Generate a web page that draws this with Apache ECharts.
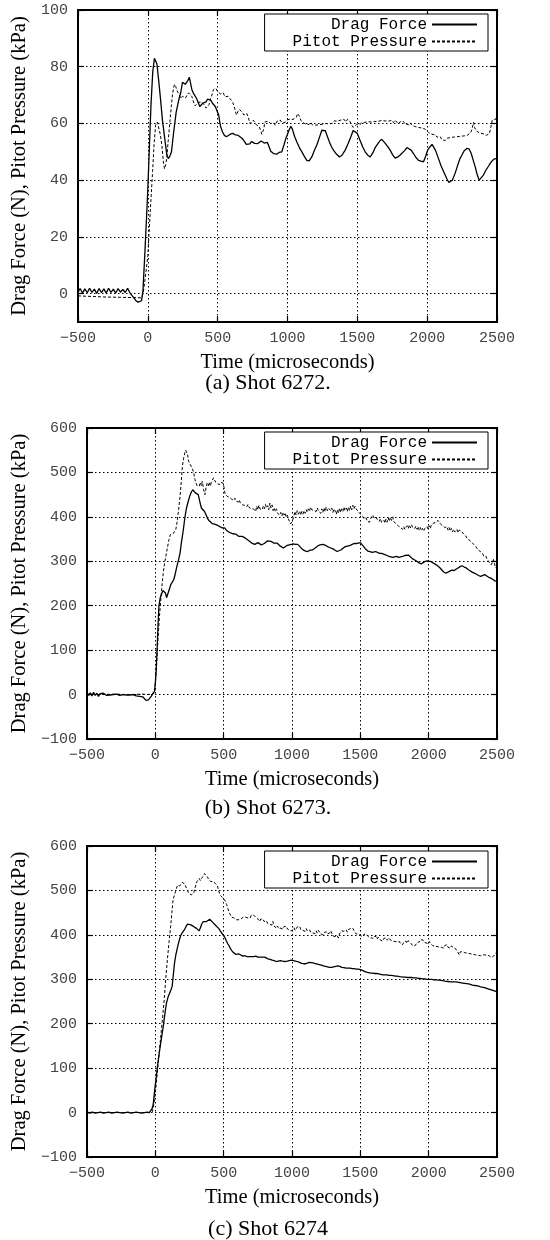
<!DOCTYPE html>
<html>
<head>
<meta charset="utf-8">
<title>Drag force and Pitot pressure, shots 6272-6274</title>
<script src="https://cdn.jsdelivr.net/npm/echarts@6.0.0/dist/echarts.min.js"></script>
<style>
  html, body { margin: 0; padding: 0; background: #fff; }
  #chart { width: 550px; height: 1240px; }
</style>
</head>
<body>
<div id="chart"></div>
<script>
// ---- Tick values ----
const timeTicks = [-500, 0, 500, 1000, 1500, 2000, 2500];
const ticks6272 = [0, 20, 40, 60, 80, 100];
const ticks6273 = [-100, 0, 100, 200, 300, 400, 500, 600];
const ticks6274 = [-100, 0, 100, 200, 300, 400, 500, 600];

const captions = ['(a) Shot 6272.', '(b) Shot 6273.', '(c) Shot 6274'];
const seriesNames = ['Drag Force', 'Pitot Pressure'];

// ---- Shot 6272: [time (us), value] ----
const drag6272 = [
  [-500,0.5],[-485,1.8],[-468,0.2],[-451,1.7],[-434,0.3],[-417,1.9],[-400,0.4],[-383,1.6],[-366,0.1],[-349,1.8],
  [-332,0.3],[-315,1.7],[-298,0.2],[-281,1.9],[-264,0.4],[-247,1.6],[-230,0.2],[-213,1.8],[-196,0.5],[-179,1.5],
  [-162,0.4],[-145,1.9],[-128,0.3],[-115,0.5],[-100,-1.5],[-85,-2.5],[-70,-3],[-56,-3.5],[-45,-2.5],[-35,1],
  [-22,13.5],[-10,26],[0,37],[10,50],[22,66],[35,78],[47,83],[56,83.5],[65,81],[78,75],[90,69],[105,61],
  [124,53.5],[136,49],[146,47.6],[158,48.5],[169,50],[185,57],[203,64],[220,68],[236,71],[248,74.5],[259,74.7],
  [268,73.8],[275,73.5],[285,75],[297,76.3],[304,76],[315,72],[327,70.6],[338,70],[349,68.8],[360,67.5],[372,66],
  [383,66.5],[395,67.2],[405,67.8],[417,67.6],[428,68.6],[440,68.2],[450,68.2],[462,67.2],[474,66.5],[484,65.9],
  [495,64.5],[507,63],[515,60.5],[522,58.8],[535,57],[548,55.8],[563,55.3],[575,55.5],[590,56.2],[608,56.5],
  [625,56],[642,55.9],[660,55.3],[676,54.7],[690,53.8],[705,52.6],[716,52.4],[730,52.8],[742,53.6],[754,53.5],
  [765,53],[777,52.6],[788,52.9],[800,53.6],[811,53.8],[822,53.8],[833,53.1],[845,53.6],[856,53.3],[868,51.8],
  [880,50.2],[890,50],[900,49.4],[912,49.4],[925,49.2],[940,49.8],[959,50],[975,52.5],[990,55],[1000,56.2],
  [1012,57.8],[1024,59],[1035,58],[1050,55.5],[1067,53.5],[1085,51.5],[1103,50],[1120,48.5],[1138,47],[1155,46.8],
  [1174,48.2],[1192,50.5],[1210,52.4],[1228,55],[1246,57.6],[1258,58.2],[1270,57.5],[1285,55.5],[1300,53.5],
  [1315,51.8],[1329,50.6],[1350,49.2],[1372,48.2],[1390,48.8],[1413,50.6],[1435,53],[1455,55.5],[1470,57.5],
  [1484,57.9],[1500,56.5],[1520,54],[1538,51.8],[1556,50],[1575,48.8],[1592,48.2],[1610,49.5],[1625,51.2],
  [1640,52.4],[1660,53.8],[1675,54.4],[1687,54],[1700,53],[1718,51.8],[1735,50.6],[1752,49],[1771,47.8],
  [1790,48.2],[1805,48.8],[1819,49.4],[1840,50.5],[1855,51.5],[1866,51.8],[1885,50.6],[1902,49.4],[1920,48],
  [1938,47],[1956,46.7],[1974,46.5],[1990,48.5],[2005,50.8],[2021,51.8],[2035,52.6],[2045,52.4],[2060,50.5],
  [2081,47.6],[2100,45],[2120,42.8],[2140,40.6],[2155,39.2],[2165,38.8],[2180,40],[2200,42.4],[2220,45.5],
  [2235,47.6],[2248,48.8],[2265,50.4],[2284,51.2],[2300,51],[2315,49.5],[2330,47],[2344,44.7],[2358,42],
  [2372,40],[2385,40.3],[2403,41.8],[2420,43.5],[2440,45],[2451,45.9],[2465,46.8],[2480,47.5],[2500,47.6]
];
const pitot6272 = [
  [-500,-0.8],[-400,-1],[-300,-1.2],[-200,-1.3],[-100,-1.4],[-45,-1.5],[-34,0],[-20,5],[-10,9],[0,13.5],
  [15,27],[34,43],[45,53],[56,59.4],[68,60.5],[79,60],[90,56],[101,52],[110,47],[119,44],[128,45.5],[135,47.6],
  [146,54],[158,60.6],[168,66],[176,70],[184,72.5],[191,73.8],[200,73],[207,71.8],[214,71.2],[225,70],[236,68.8],
  [248,69.6],[259,69.4],[270,69],[281,70],[292,70.8],[304,71.2],[315,69.5],[327,67.6],[338,66.2],[349,66.5],
  [360,67.4],[372,66.8],[383,67.6],[394,67.3],[405,66.5],[417,65.4],[428,64.7],[439,66.7],[450,68.8],[462,70.5],
  [470,72],[477,71.8],[488,72.3],[500,71.2],[510,71.8],[520,70.4],[529,70],[540,70.8],[552,69.4],[563,69],
  [575,69.6],[589,69.4],[597,68.2],[608,67.4],[619,65.9],[627,64.2],[635,63],[645,64.2],[655,65],[664,64.7],
  [675,64],[687,63],[698,62.5],[709,63.5],[720,62],[732,60],[745,60.2],[755,61.2],[766,60.6],[777,59.5],
  [788,59.8],[799,58.8],[810,57.2],[816,56.2],[822,55.9],[830,58],[838,60.5],[844,61],[852,60.2],[862,60.8],
  [878,60],[890,59.4],[900,60.2],[912,59.4],[925,60.8],[936,60.2],[948,61.2],[958,60.4],[970,61],[982,60.3],
  [994,61.2],[1005,60.6],[1016,61.5],[1028,60.8],[1040,61.4],[1052,60.7],[1064,62.2],[1072,63.5],[1079,64],
  [1086,62.5],[1095,61.2],[1106,60.4],[1118,61],[1130,59.8],[1142,60.5],[1154,59.6],[1166,60.4],[1178,59.5],
  [1190,60.2],[1202,59.4],[1214,60],[1226,59.6],[1238,60.3],[1250,59.7],[1262,60.4],[1274,60],[1286,60.6],
  [1298,59.8],[1310,60.5],[1322,60.1],[1334,60.9],[1346,60.2],[1358,60.8],[1370,60.4],[1382,61.2],[1394,60.7],
  [1406,61.4],[1418,60.5],[1430,61.5],[1437,62],[1446,60.8],[1458,59.6],[1470,58.6],[1482,58.2],[1494,59.6],
  [1506,60.1],[1518,59.5],[1530,60.3],[1542,59.6],[1554,60.4],[1566,59.8],[1578,60.6],[1590,59.9],[1602,60.5],
  [1614,60],[1626,60.7],[1638,60.1],[1650,60.8],[1662,60.3],[1674,61],[1686,60.4],[1698,60.9],[1710,60.2],
  [1722,60.8],[1734,60.1],[1746,61.1],[1758,60.3],[1770,61.2],[1782,60.5],[1794,59.8],[1806,60.6],[1818,59.9],
  [1830,60.7],[1842,59.8],[1854,60.5],[1866,59.5],[1878,60.3],[1890,59.4],[1902,60],[1914,58.9],[1926,59.6],
  [1938,58.6],[1950,59.2],[1962,58.4],[1974,58.9],[1986,58],[1998,57.6],[2010,56.8],[2022,57.4],[2034,56.2],
  [2046,55.5],[2058,56],[2070,55.2],[2082,54.5],[2094,55.3],[2106,54.2],[2118,54.9],[2130,54],[2142,54.8],
  [2154,54.2],[2166,55],[2178,54.4],[2190,55.2],[2202,54.5],[2214,55.3],[2226,54.7],[2238,55.5],[2250,54.8],
  [2262,55.6],[2274,55],[2286,55.8],[2298,55.4],[2310,56.6],[2320,57.8],[2332,60.4],[2340,58.5],[2352,57.4],
  [2364,57.8],[2376,56.6],[2388,57.2],[2400,56.4],[2412,56.9],[2424,55.8],[2436,55.4],[2446,56.5],[2456,58.6],
  [2466,61.2],[2476,61.6],[2488,61.4],[2500,62.4]
];

// ---- Shot 6273 ----
const drag6273 = [
  [-500,3],[-488,-2],[-476,4],[-464,-3],[-452,5],[-440,-2],[-428,3],[-416,-4],[-404,2],[-392,-1],[-380,3],
  [-368,0],[-356,-2],[-344,1],[-332,-1],[-320,2],[-308,0],[-296,-1],[-284,1],[-272,0],[-260,-2],[-248,1],
  [-236,0],[-224,2],[-212,-1],[-200,1],[-188,-1],[-176,3],[-164,0],[-152,2],[-140,-3],[-128,1],[-116,-4],
  [-104,-7],[-92,-5],[-80,-9],[-68,-13],[-60,-15],[-50,-12],[-40,-7.5],[-28,-3],[-16,0],[-6,8],[0,26],[6,55],
  [12,94],[19,150],[26,199],[36,218],[49,229],[57,234],[65,236],[75,228],[82,218],[88,214],[96,222],[104,238],
  [112,247],[122,252],[135,259],[146,272],[158,289],[170,303],[181,319],[192,345],[205,371],[216,398],[228,420],
  [240,434],[251,446],[262,455],[274,461],[283,458],[293,454],[303,455],[314,450],[325,435],[337,420],[348,418],
  [360,412],[372,404],[383,396],[394,391],[405,387],[416,385],[426,384],[440,383],[455,381],[472,378],[490,375],
  [507,375],[520,370],[532,367],[542,365],[555,366],[566,362],[577,364],[590,361],[600,358],[612,356],[625,358],
  [635,356],[647,356],[660,352],[670,348],[682,347],[693,345],[705,341],[716,340],[728,338],[740,339],[751,342],
  [763,341],[775,337],[786,340],[798,340],[810,343],[821,346],[833,349],[845,345],[856,343],[868,341],[880,345],
  [890,341],[902,338],[915,334],[926,331],[937,330],[950,333],[965,336],[980,337],[995,338],[1010,339],[1025,338],
  [1042,338],[1055,334],[1070,329],[1085,325],[1100,323],[1115,322],[1130,325],[1146,325],[1160,328],[1175,331],
  [1190,335],[1205,337],[1227,338],[1245,336],[1260,333],[1275,331],[1285,330],[1300,328],[1315,325],[1330,322],
  [1343,323],[1360,326],[1375,330],[1390,333],[1400,334],[1420,335],[1440,338],[1455,340],[1470,340],[1485,341],
  [1500,342],[1512,339],[1525,333],[1540,327],[1555,323],[1570,322],[1585,320],[1597,320],[1612,322],[1625,320],
  [1640,318],[1655,318],[1667,318],[1680,315],[1695,313],[1710,311],[1722,310],[1736,309],[1750,312],[1765,311],
  [1780,309],[1794,309],[1810,311],[1825,313],[1838,315],[1852,314],[1865,310],[1880,306],[1898,303],[1912,300],
  [1928,297],[1945,294],[1960,297],[1975,300],[1990,301],[2002,300],[2018,299],[2035,296],[2050,293],[2065,290],
  [2080,286],[2095,281],[2110,276],[2126,273],[2140,275],[2155,278],[2170,280],[2185,279],[2200,282],[2215,285],
  [2230,288],[2245,290],[2260,287],[2275,285],[2291,281],[2305,278],[2321,275],[2338,273],[2352,270],[2365,268],
  [2380,266],[2394,267],[2410,270],[2425,267],[2440,264],[2455,262],[2470,259],[2485,256],[2500,255]
];
const pitot6273 = [
  [-500,1],[-400,0],[-300,1],[-200,0],[-100,1],[-30,0],[-5,4],[8,60],[19,124],[30,175],[42,221],[50,250],
  [58,274],[67,295],[77,311],[88,330],[100,349],[110,360],[119,364],[130,362],[142,362],[150,372],[158,386],
  [170,415],[181,446],[190,480],[198,514],[207,532],[216,544],[222,550],[228,553],[236,540],[244,525],[252,520],
  [263,518],[272,508],[281,499],[290,484],[298,476],[305,470],[314,474],[321,469],[330,478],[337,470],[344,480],
  [353,462],[363,450],[371,466],[379,476],[387,470],[395,478],[402,469],[410,478],[418,482],[426,488],[433,484],
  [441,478],[449,480],[457,474],[465,476],[472,473],[480,478],[488,474],[495,476],[503,466],[510,452],[518,450],
  [526,446],[534,450],[542,444],[550,448],[558,440],[566,444],[574,437],[582,442],[590,436],[598,440],[606,433],
  [614,438],[622,431],[630,434],[638,427],[646,430],[654,426],[662,429],[670,423],[678,428],[686,421],[694,424],
  [702,418],[710,414],[718,418],[726,420],[734,412],[742,424],[750,416],[758,426],[766,418],[774,422],[782,416],
  [790,424],[798,418],[806,428],[814,420],[822,425],[830,416],[838,431],[846,420],[854,427],[862,414],[870,420],
  [878,412],[886,418],[894,408],[902,412],[910,404],[918,410],[926,402],[934,410],[942,404],[950,409],[958,399],
  [966,404],[974,395],[982,392],[990,384],[998,380],[1006,394],[1014,402],[1022,412],[1030,404],[1038,414],
  [1046,406],[1056,413],[1064,404],[1072,412],[1080,406],[1088,414],[1096,408],[1104,416],[1112,410],[1120,418],
  [1128,413],[1136,422],[1144,416],[1153,420],[1161,414],[1169,418],[1177,412],[1185,420],[1193,413],[1202,416],
  [1210,408],[1218,418],[1226,410],[1234,420],[1242,412],[1250,422],[1258,414],[1266,420],[1275,424],[1283,414],
  [1291,420],[1299,410],[1307,418],[1316,413],[1324,406],[1332,416],[1340,408],[1348,420],[1356,410],[1364,418],
  [1372,412],[1380,422],[1388,414],[1397,420],[1405,412],[1413,422],[1421,414],[1429,424],[1437,416],[1445,426],
  [1453,418],[1461,424],[1469,418],[1477,420],[1485,412],[1493,414],[1501,406],[1509,404],[1518,401],[1526,396],
  [1534,394],[1542,398],[1550,390],[1558,394],[1567,388],[1575,396],[1583,399],[1591,404],[1599,398],[1607,402],
  [1615,400],[1623,394],[1631,398],[1639,390],[1647,396],[1655,388],[1664,387],[1672,393],[1680,386],[1688,395],
  [1696,388],[1704,398],[1712,390],[1720,399],[1728,392],[1737,400],[1745,390],[1753,392],[1761,384],[1769,388],
  [1777,380],[1786,383],[1794,376],[1802,380],[1810,372],[1818,378],[1826,372],[1835,375],[1843,380],[1851,374],
  [1859,382],[1867,375],[1875,382],[1883,376],[1891,380],[1899,374],[1907,379],[1915,372],[1923,378],[1931,370],
  [1939,376],[1947,369],[1955,374],[1963,368],[1972,374],[1980,372],[1988,378],[1996,372],[2004,380],[2012,374],
  [2020,382],[2029,379],[2037,386],[2045,382],[2053,388],[2061,384],[2069,392],[2078,390],[2086,384],[2094,388],
  [2102,380],[2110,384],[2118,376],[2126,372],[2134,378],[2142,370],[2150,376],[2158,368],[2166,374],[2174,366],
  [2182,372],[2190,366],[2199,368],[2207,372],[2215,364],[2223,370],[2231,374],[2239,368],[2247,372],[2255,362],
  [2263,360],[2272,357],[2280,352],[2288,356],[2296,348],[2304,352],[2312,344],[2321,345],[2329,338],[2337,340],
  [2345,333],[2353,332],[2361,326],[2370,327],[2378,322],[2386,318],[2394,318],[2402,312],[2410,314],[2418,312],
  [2426,306],[2434,303],[2442,298],[2450,296],[2458,292],[2462,289],[2468,296],[2474,304],[2480,300],[2486,290],
  [2492,285],[2500,290]
];

// ---- Shot 6274 ----
const drag6274 = [
  [-500,1],[-480,-1],[-460,1],[-440,-1],[-420,0],[-400,1],[-380,-1],[-360,0],[-340,1],[-320,-1],[-300,0],
  [-280,1],[-260,0],[-240,-1],[-220,0],[-200,1],[-180,-1],[-160,0],[-140,1],[-120,0],[-100,-1],[-80,0],[-60,1],
  [-45,0],[-35,0],[-25,8],[-16,17],[-5,50],[7,81],[18,110],[30,137],[44,166],[58,194],[70,222],[81,246],[93,260],
  [105,269],[114,276],[123,284],[131,308],[140,336],[150,355],[158,366],[170,382],[180,393],[188,400],[200,406],
  [212,411],[225,419],[235,424],[245,426],[256,423],[267,420],[280,419],[292,417],[303,414],[312,410],[321,409],
  [330,416],[340,425],[351,430],[362,431],[374,430],[385,433],[398,435],[410,432],[420,428],[430,425],[442,421],
  [454,419],[465,414],[475,409],[484,407],[495,400],[507,395],[520,386],[530,380],[540,375],[552,368],[565,362],
  [578,358],[590,356],[600,355],[612,357],[625,354],[640,352],[655,353],[670,351],[682,352],[695,351],[708,350],
  [720,351],[735,352],[750,350],[763,348],[775,350],[788,352],[800,350],[812,347],[825,346],[840,345],[855,343],
  [870,342],[885,340],[900,341],[915,342],[930,341],[949,340],[965,341],[980,342],[995,343],[1010,342],[1025,341],
  [1040,340],[1055,338],[1070,336],[1085,335],[1100,335],[1115,337],[1130,338],[1141,338],[1155,337],[1170,335],
  [1185,334],[1200,333],[1215,332],[1230,330],[1245,329],[1260,328],[1275,327],[1290,327],[1305,328],[1320,329],
  [1335,330],[1350,329],[1365,327],[1380,326],[1395,325],[1410,325],[1425,325],[1440,324],[1455,324],[1470,323],
  [1485,323],[1500,322],[1515,320],[1530,318],[1545,316],[1560,315],[1575,314],[1590,314],[1605,313],[1620,313],
  [1635,312],[1650,311],[1665,310],[1680,310],[1695,310],[1710,309],[1725,309],[1740,308],[1755,307],[1770,307],
  [1786,306],[1800,306],[1815,305],[1830,305],[1845,304],[1860,304],[1875,304],[1890,303],[1908,303],[1925,302],
  [1940,302],[1955,301],[1970,301],[1985,300],[2005,300],[2020,300],[2035,299],[2050,299],[2065,298],[2080,298],
  [2102,297],[2120,296],[2140,295],[2160,294],[2180,294],[2199,294],[2220,293],[2240,292],[2260,291],[2280,290],
  [2300,289],[2320,287],[2340,286],[2360,285],[2380,283],[2400,282],[2420,280],[2440,278],[2460,276],[2480,274],
  [2500,272]
];
const pitot6274 = [
  [-500,0],[-250,0],[-40,0],[-30,0.5],[-21,2],[-10,20],[0,44],[10,74],[19,104],[30,140],[42,179],[54,217],
  [65,254],[76,300],[88,344],[100,383],[112,419],[121,450],[130,479],[140,490],[147,497],[155,505],[163,512],
  [170,516],[178,510],[188,512],[196,518],[205,520],[214,515],[223,512],[232,502],[244,494],[253,490],[263,490],
  [272,492],[281,494],[290,505],[298,514],[305,520],[313,524],[321,527],[330,522],[338,527],[344,527],[352,533],
  [360,538],[367,542],[374,535],[382,530],[391,524],[398,522],[406,520],[414,518],[422,520],[430,516],[438,516],
  [446,514],[455,510],[462,500],[470,493],[478,488],[485,486],[491,486],[498,482],[505,478],[514,475],[522,468],
  [530,460],[542,449],[550,446],[558,440],[565,437],[575,438],[585,434],[594,434],[603,438],[612,434],[620,438],
  [628,436],[635,437],[643,440],[651,436],[658,440],[664,437],[670,440],[678,438],[686,442],[694,438],[702,444],
  [710,446],[718,445],[727,449],[734,440],[742,438],[750,436],[758,432],[764,430],[772,436],[780,432],[788,435],
  [796,430],[804,434],[813,432],[821,426],[828,430],[836,424],[844,428],[852,422],[860,430],[868,420],[876,416],
  [886,415],[894,420],[902,414],[910,418],[918,415],[926,417],[934,413],[942,419],[950,415],[959,419],[967,413],
  [975,417],[983,410],[991,414],[999,409],[1007,411],[1015,416],[1023,410],[1031,414],[1039,418],[1047,414],
  [1056,419],[1064,412],[1072,416],[1080,410],[1088,413],[1096,408],[1104,414],[1112,409],[1120,413],[1129,411],
  [1137,406],[1145,410],[1153,404],[1161,408],[1169,403],[1177,409],[1185,404],[1193,410],[1202,407],[1210,402],
  [1218,406],[1226,400],[1234,405],[1242,401],[1250,407],[1258,402],[1266,406],[1275,404],[1283,409],[1291,404],
  [1299,398],[1307,402],[1315,396],[1323,392],[1331,398],[1339,393],[1347,402],[1355,406],[1363,409],[1372,412],
  [1380,408],[1388,412],[1397,411],[1405,406],[1413,412],[1421,408],[1429,414],[1437,412],[1445,415],[1453,410],
  [1461,407],[1469,402],[1477,406],[1485,402],[1494,404],[1502,398],[1510,401],[1518,396],[1526,401],[1534,397],
  [1542,402],[1550,399],[1558,396],[1567,400],[1575,394],[1583,398],[1591,392],[1599,397],[1607,393],[1615,396],
  [1623,390],[1631,395],[1640,393],[1648,388],[1656,392],[1664,386],[1672,392],[1680,388],[1688,393],[1696,388],
  [1704,392],[1713,393],[1721,388],[1729,391],[1737,386],[1745,390],[1753,385],[1761,389],[1769,384],[1777,388],
  [1786,385],[1794,380],[1802,384],[1810,378],[1818,384],[1826,380],[1834,386],[1842,381],[1850,387],[1859,387],
  [1867,382],[1875,380],[1883,376],[1891,380],[1899,375],[1908,378],[1916,383],[1924,386],[1932,384],[1940,389],
  [1948,386],[1956,389],[1964,384],[1972,388],[1980,382],[1988,386],[1996,380],[2005,385],[2013,380],[2021,382],
  [2029,376],[2037,380],[2045,374],[2053,378],[2061,374],[2069,378],[2078,372],[2086,376],[2094,372],[2102,375],
  [2110,370],[2118,376],[2126,374],[2134,378],[2142,372],[2150,376],[2158,370],[2166,375],[2175,375],[2183,371],
  [2191,374],[2199,368],[2207,364],[2215,360],[2224,355],[2232,362],[2240,366],[2248,362],[2256,365],[2264,360],
  [2272,362],[2280,359],[2288,362],[2296,358],[2304,361],[2313,357],[2321,359],[2329,356],[2337,358],[2345,355],
  [2353,357],[2361,354],[2369,356],[2378,353],[2386,356],[2394,355],[2402,353],[2410,355],[2418,352],[2426,354],
  [2434,351],[2443,353],[2451,350],[2459,349],[2467,348],[2475,352],[2483,356],[2491,359],[2500,357]
];

// ---- Layout and styles ----
const panels = [
  { left: 78, top: 10, height: 312, yMin: -10, yMax: 100, yTicks: ticks6272, drag: drag6272, pitot: pitot6272, yNameGap: 43, legendTop: 14 },
  { left: 87, top: 428, height: 311, yMin: -100, yMax: 600, yTicks: ticks6273, drag: drag6273, pitot: pitot6273, yNameGap: 52, legendTop: 432 },
  { left: 87, top: 846, height: 311, yMin: -100, yMax: 600, yTicks: ticks6274, drag: drag6274, pitot: pitot6274, yNameGap: 52, legendTop: 851 }
];
const captionY = [372, 797, 1218];

const SERIF = '"Liberation Serif", "DejaVu Serif", serif';
const MONO = '"Liberation Mono", "DejaVu Sans Mono", monospace';
const tickFont = { fontFamily: MONO, fontSize: 15, color: '#444' };
const nameFont = { fontFamily: SERIF, fontSize: 20.5, color: '#000' };
const gridDots = { color: '#000', width: 1, type: [1.5, 2.5] };
const tickStyle = { color: '#000', width: 1.2 };
const fmtNum = v => (v < 0 ? '\u2212' + Math.abs(v) : String(v));

const grids = [], xAxes = [], yAxes = [], series = [], legends = [], graphics = [];

panels.forEach((p, i) => {
  grids.push({ left: p.left, right: 53, top: p.top, height: p.height, show: true,
               borderColor: '#000', borderWidth: 2, backgroundColor: 'transparent' });

  // bottom axis with labels and grid, top axis as mirror ticks
  xAxes.push({
    type: 'value', gridIndex: i, position: 'bottom', min: -500, max: 2500,
    axisLine: { show: false, onZero: false },
    axisTick: { show: true, inside: true, length: 6, customValues: timeTicks, lineStyle: tickStyle },
    axisLabel: { customValues: timeTicks, formatter: fmtNum, margin: 9, ...tickFont },
    splitLine: { show: true, lineStyle: gridDots },
    name: 'Time (microseconds)', nameLocation: 'middle', nameGap: 30, nameTextStyle: nameFont
  });
  xAxes.push({
    type: 'value', gridIndex: i, position: 'top', min: -500, max: 2500,
    axisLine: { show: false, onZero: false },
    axisTick: { show: true, inside: true, length: 6, customValues: timeTicks, lineStyle: tickStyle },
    axisLabel: { show: false }, splitLine: { show: false }
  });

  yAxes.push({
    type: 'value', gridIndex: i, position: 'left', min: p.yMin, max: p.yMax,
    axisLine: { show: false, onZero: false },
    axisTick: { show: true, inside: true, length: 6, customValues: p.yTicks, lineStyle: tickStyle },
    axisLabel: { customValues: p.yTicks, formatter: fmtNum, margin: 10, ...tickFont },
    splitLine: { show: true, lineStyle: gridDots },
    name: 'Drag Force (N), Pitot Pressure (kPa)', nameLocation: 'middle', nameRotate: 90,
    nameGap: p.yNameGap, nameTextStyle: nameFont
  });
  yAxes.push({
    type: 'value', gridIndex: i, position: 'right', min: p.yMin, max: p.yMax,
    axisLine: { show: false, onZero: false },
    axisTick: { show: true, inside: true, length: 6, customValues: p.yTicks, lineStyle: tickStyle },
    axisLabel: { show: false }, splitLine: { show: false }
  });

  series.push({
    name: seriesNames[0], type: 'line', xAxisIndex: 2 * i, yAxisIndex: 2 * i,
    data: p.drag, symbol: 'none', showSymbol: false, z: 3,
    lineStyle: { color: '#000', width: 1.3, type: 'solid' }, itemStyle: { color: '#000' }
  });
  series.push({
    name: seriesNames[1], type: 'line', xAxisIndex: 2 * i, yAxisIndex: 2 * i,
    data: p.pitot, symbol: 'none', showSymbol: false, z: 2,
    lineStyle: { color: '#000', width: 1, type: [3, 2] }, itemStyle: { color: '#000' }
  });

  // key box: text on the left, line sample on the right
  legends.push({
    data: seriesNames, orient: 'vertical', align: 'right', right: 62, top: p.legendTop,
    itemWidth: 45, itemHeight: 12, itemGap: 0, selectedMode: false,
    padding: [2, 10, 1, 28], borderColor: '#000', borderWidth: 1, backgroundColor: '#fff',
    itemStyle: { color: 'rgba(0,0,0,0)', borderWidth: 0, opacity: 0 },
    textStyle: { fontFamily: MONO, fontSize: 16, lineHeight: 17, color: '#000' }
  });

  graphics.push({
    type: 'text', x: 268, y: captionY[i],
    style: { text: captions[i], fontFamily: SERIF, fontSize: 22, fill: '#000', align: 'center', verticalAlign: 'top' }
  });
});

const chart = echarts.init(document.getElementById('chart'), null, { renderer: 'canvas' });
chart.setOption({
  animation: false,
  backgroundColor: '#fff',
  grid: grids, xAxis: xAxes, yAxis: yAxes, series: series,
  legend: legends, graphic: graphics
});
</script>
</body>
</html>
